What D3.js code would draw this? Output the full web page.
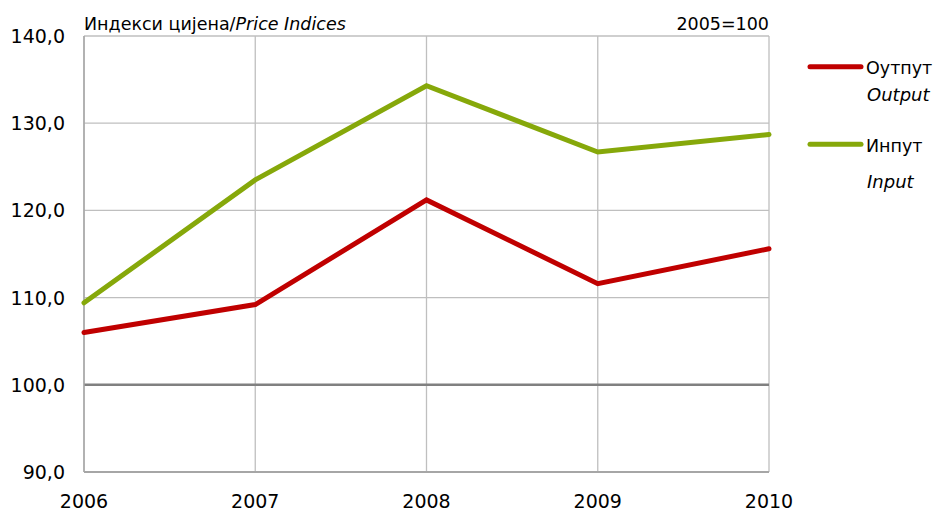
<!DOCTYPE html>
<html><head><meta charset="utf-8">
<script src="https://cdn.jsdelivr.net/npm/d3@7/dist/d3.min.js"></script>
<style>body{margin:0;background:#fff;} text{font-family:"DejaVu Sans",sans-serif;fill:#000;}</style>
</head><body><svg id="c" width="938" height="511"></svg>
<script>
const years = ["2006","2007","2008","2009","2010"];
const output = [106.0, 109.2, 121.2, 111.6, 115.6];
const input = [109.4, 123.5, 134.3, 126.7, 128.7];
const yTicks = [90, 100, 110, 120, 130, 140];
const seriesNames = [["Оутпут","Output"],["Инпут","Input"]];
const colors = ["#c00000", "#86a80a"];

const svg = d3.select("#c");
const L = 84, R = 769, T = 36, B = 472;
const x = d3.scalePoint().domain(years).range([L, R]);
const y = d3.scaleLinear().domain([90, 140]).range([B, T]);
const fmt = v => d3.format(".1f")(v).replace(".", ",");

// grid
svg.append("g").selectAll("line").data(yTicks.filter(v => v !== 90 && v !== 100)).join("line")
  .attr("x1", L).attr("x2", R).attr("y1", d => y(d)).attr("y2", d => y(d))
  .attr("stroke", "#bfbfbf").attr("stroke-width", 1.3);
svg.append("g").selectAll("line").data(years).join("line")
  .attr("x1", d => x(d)).attr("x2", d => x(d)).attr("y1", T).attr("y2", B)
  .attr("stroke", "#bfbfbf").attr("stroke-width", 1.3);
// 100 line
svg.append("line").attr("x1", L).attr("x2", R).attr("y1", y(100)).attr("y2", y(100))
  .attr("stroke", "#808080").attr("stroke-width", 2.5);
// bottom axis line
svg.append("line").attr("x1", L).attr("x2", R).attr("y1", y(90)).attr("y2", y(90))
  .attr("stroke", "#a6a6a6").attr("stroke-width", 2);
svg.append("line").attr("x1", L).attr("x2", L).attr("y1", T).attr("y2", B)
  .attr("stroke", "#a6a6a6").attr("stroke-width", 1.5);

// y labels
svg.append("g").selectAll("text").data(yTicks).join("text")
  .attr("x", 65).attr("y", d => y(d) + 7).attr("text-anchor", "end")
  .style("font-size", "19px").text(fmt);
// x labels
svg.append("g").selectAll("text").data(years).join("text")
  .attr("x", d => x(d)).attr("y", 508).attr("text-anchor", "middle")
  .style("font-size", "19px").text(d => d);

// title
const t = svg.append("text").attr("x", 84).attr("y", 30).style("font-size", "17.5px");
t.append("tspan").text("Индекси цијена/");
t.append("tspan").style("font-style", "italic").text("Price Indices");
svg.append("text").attr("x", 769).attr("y", 30).attr("text-anchor", "end")
  .style("font-size", "17.5px").text("2005=100");

// lines
const line = d3.line().x((d, i) => x(years[i])).y(d => y(d));
[output, input].forEach((s, k) => {
  svg.append("path").datum(s).attr("d", line).attr("fill", "none")
    .attr("stroke", colors[k]).attr("stroke-width", 5).attr("stroke-linejoin", "miter")
    .attr("stroke-linecap", "round");
});

// legend
const legY = [66.7, 144.3];
const legSub = [101, 188];
seriesNames.forEach((n, k) => {
  svg.append("line").attr("x1", 810).attr("x2", 861).attr("y1", legY[k]).attr("y2", legY[k])
    .attr("stroke", colors[k]).attr("stroke-width", 5).attr("stroke-linecap", "round");
  svg.append("text").attr("x", 866).attr("y", legY[k] + 7.5).style("font-size", "17.5px").text(n[0]);
  svg.append("text").attr("x", 867).attr("y", legSub[k]).style("font-size", "18px")
    .style("font-style", "italic").text(n[1]);
});
</script></body></html>
